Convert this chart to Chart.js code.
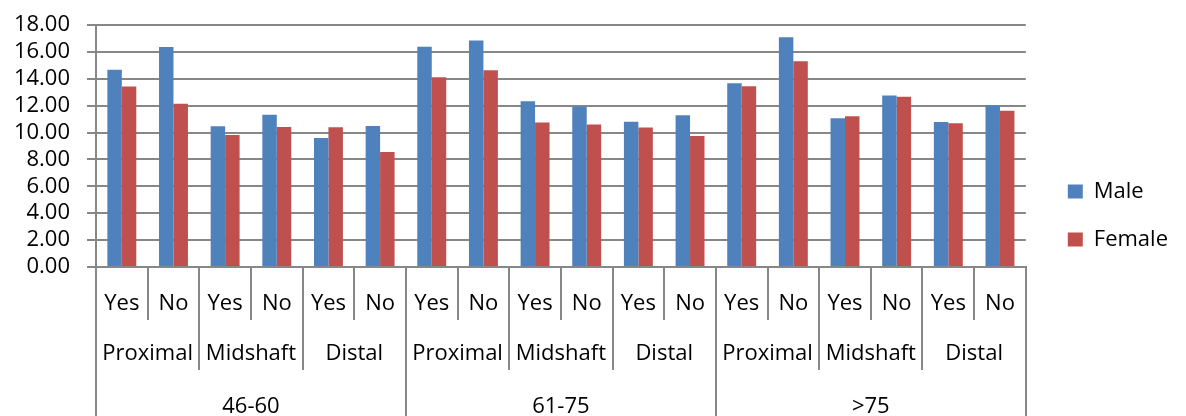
<!DOCTYPE html>
<html>
<head>
<meta charset="utf-8">
<script src="https://cdn.jsdelivr.net/npm/chart.js@4.4.1/dist/chart.umd.min.js"></script>
<style>
  html, body { margin: 0; padding: 0; background: #fff; overflow: hidden; }
  #wrap { width: 1186px; height: 416px; }
</style>
</head>
<body>
<div id="wrap"><canvas id="grafico"></canvas></div>
<script>
const idades = ["46-60", "61-75", ">75"];
const locais = ["Proximal", "Midshaft", "Distal"];
const respostas = ["Yes", "No"];

const male = [14.68, 16.37, 10.47, 11.33, 9.60, 10.49,
              16.39, 16.84, 12.33, 11.93, 10.81, 11.29,
              13.67, 17.09, 11.06, 12.75, 10.79, 12.03];
const female = [13.42, 12.15, 9.82, 10.42, 10.39, 8.56,
                14.11, 14.63, 10.74, 10.59, 10.37, 9.75,
                13.44, 15.30, 11.21, 12.67, 10.69, 11.63];

const yTicks = [0, 2, 4, 6, 8, 10, 12, 14, 16, 18];

// labels for each level of the category axis
const nivel1 = [];
const nivel2 = [];
idades.forEach(() => {
  locais.forEach(l => {
    nivel2.push(l);
    respostas.forEach(r => nivel1.push(r));
  });
});

const cinza = "#878787";
const fonte = { family: "Open Sans", size: 22 };

function eixoX(labels, altura, padding, peso) {
  return {
    type: "category",
    position: "bottom",
    labels,
    offset: true,
    weight: peso,
    border: { display: false },
    grid: {
      offset: true,
      drawOnChartArea: false,
      tickLength: altura,
      color: cinza,
      lineWidth: 2
    },
    ticks: {
      color: "#000",
      font: fonte,
      autoSkip: false,
      maxRotation: 0,
      minRotation: 0,
      padding
    },
    afterFit: s => { s.height = altura; }
  };
}

const eixo1 = eixoX(nivel1, 53, -29, 0);
eixo1.border = { display: true, color: cinza, width: 2 };

// nudges the legend block to the right of the plot
const moverLegenda = {
  id: "moverLegenda",
  afterLayout(chart) {
    const lg = chart.legend;
    lg.left += 16;
    lg.right += 16;
    lg.top -= 5;
    lg.bottom -= 5;
  }
};

new Chart(document.getElementById("grafico"), {
  type: "bar",
  data: {
    labels: nivel1,
    datasets: [
      { label: "Male", data: male, backgroundColor: "#4F81BD", xAxisID: "x" },
      { label: "Female", data: female, backgroundColor: "#C0504D", xAxisID: "x" }
    ]
  },
  options: {
    responsive: true,
    maintainAspectRatio: false,
    animation: false,
    categoryPercentage: 0.56,
    barPercentage: 1.0,
    layout: { padding: { top: 25, right: 24, bottom: 0, left: 0 } },
    plugins: {
      tooltip: { enabled: false },
      legend: {
        position: "right",
        labels: {
          color: "#000",
          font: fonte,
          boxWidth: 15,
          boxHeight: 14,
          padding: 26
        }
      }
    },
    scales: {
      x: eixo1,
      x2: eixoX(nivel2, 50, -29, 1),
      x3: eixoX(idades, 46, -22, 2),
      y: {
        min: 0,
        max: 18,
        afterBuildTicks: s => { s.ticks = yTicks.map(v => ({ value: v })); },
        border: { color: cinza, width: 2 },
        grid: { color: cinza, lineWidth: 2, tickLength: 9 },
        ticks: {
          color: "#000",
          font: fonte,
          padding: 17,
          autoSkip: false,
          callback: v => Number(v).toFixed(2)
        },
        afterFit: s => {
          s.width = 96;
          // the label padding would otherwise push the plot down
          s.paddingTop = 0;
          s.paddingBottom = 0;
        }
      }
    }
  },
  plugins: [moverLegenda]
});
</script>
</body>
</html>
